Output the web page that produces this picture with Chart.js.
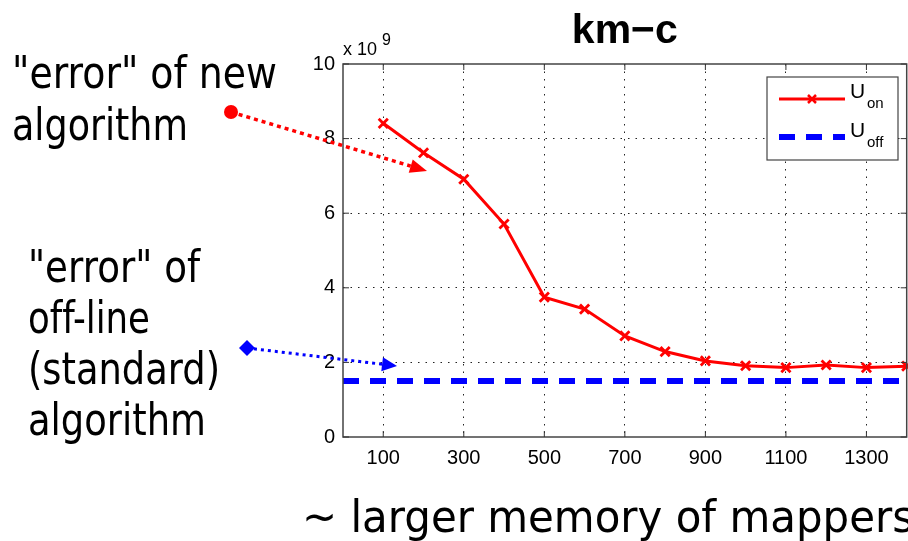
<!DOCTYPE html>
<html>
<head>
<meta charset="utf-8">
<script src="https://cdn.jsdelivr.net/npm/chart.js@4/dist/chart.umd.min.js"></script>
<style>
  html, body { margin: 0; padding: 0; background: #fff; overflow: hidden; }
  #wrap { width: 908px; height: 541px; overflow: hidden; }
</style>
</head>
<body>
<div id="wrap"><canvas id="c" width="916" height="541"></canvas></div>
<script>
// memory of mappers (x) and error values (in units of 1e9)
const memSizes = [100, 200, 300, 400, 500, 600, 700, 800, 900, 1000, 1100, 1200, 1300, 1400];
const uOn = [8.41, 7.62, 6.91, 5.71, 3.75, 3.43, 2.71, 2.29, 2.04, 1.91, 1.86, 1.93, 1.86, 1.90];
const uOffX = [0, 1400];
const uOff = [1.5, 1.5];
const xTicks = [100, 300, 500, 700, 900, 1100, 1300];
const yTicks = [0, 2, 4, 6, 8, 10];

const titleText = "km\u2212c";
const xLabel = "~ larger memory of mappers";
const noteNew = ['"error" of new', 'algorithm'];
// zero-width non-joiner keeps the two f's apart (no ligature), as on the slide
const noteOff = ['"error" of', 'of\u200Cf-line', '(standard)', 'algorithm'];

const SANS = '"Liberation Sans", Arial, sans-serif';
const NOTE = '45px "DejaVu Sans", Verdana, sans-serif';

function arrow(ctx, x0, y0, x1, y1, color, width, dash, head, half) {
  const a = Math.atan2(y1 - y0, x1 - x0);
  const bx = x1 - head * Math.cos(a), by = y1 - head * Math.sin(a);
  ctx.save();
  ctx.strokeStyle = color;
  ctx.fillStyle = color;
  ctx.lineWidth = width;
  ctx.setLineDash(dash);
  ctx.beginPath();
  ctx.moveTo(x0, y0);
  ctx.lineTo(bx, by);
  ctx.stroke();
  ctx.setLineDash([]);
  ctx.beginPath();
  ctx.moveTo(x1, y1);
  ctx.lineTo(bx + half * Math.sin(a), by - half * Math.cos(a));
  ctx.lineTo(bx - half * Math.sin(a), by + half * Math.cos(a));
  ctx.closePath();
  ctx.fill();
  ctx.restore();
}

// draw text squeezed horizontally to a given width (the slide font is a narrow one)
function fitText(ctx, text, x, y, font, width) {
  ctx.font = font;
  const w = ctx.measureText(text).width;
  ctx.save();
  ctx.translate(x, y);
  ctx.scale(width / w, 1);
  ctx.fillText(text, 0, 0);
  ctx.restore();
}

const decor = {
  id: 'decor',
  afterDraw(chart) {
    const ctx = chart.ctx;
    const a = chart.chartArea;
    const xs = chart.scales.x, ys = chart.scales.y;
    ctx.save();

    // axis box
    ctx.strokeStyle = '#444';
    ctx.lineWidth = 1.5;
    ctx.strokeRect(a.left, a.top, a.right - a.left, a.bottom - a.top);

    // inward tick marks
    ctx.lineWidth = 1;
    ctx.strokeStyle = '#333';
    ctx.beginPath();
    xTicks.forEach(v => {
      const px = xs.getPixelForValue(v);
      ctx.moveTo(px, a.bottom); ctx.lineTo(px, a.bottom - 6);
      ctx.moveTo(px, a.top); ctx.lineTo(px, a.top + 6);
    });
    yTicks.forEach(v => {
      const py = ys.getPixelForValue(v);
      ctx.moveTo(a.left, py); ctx.lineTo(a.left + 6, py);
      ctx.moveTo(a.right, py); ctx.lineTo(a.right - 6, py);
    });
    ctx.stroke();

    // title
    ctx.fillStyle = '#000';
    ctx.textAlign = 'center';
    ctx.textBaseline = 'alphabetic';
    ctx.font = 'bold 41px ' + SANS;
    ctx.fillText(titleText, (a.left + a.right) / 2, 43);

    // exponent
    ctx.textAlign = 'left';
    ctx.font = '18px ' + SANS;
    ctx.fillText('x 10', a.left, 55);
    ctx.font = '16px ' + SANS;
    ctx.fillText('9', a.left + 39, 45);

    // legend
    ctx.fillStyle = '#fff';
    ctx.fillRect(767, 77, 131, 83);
    ctx.strokeStyle = '#444';
    ctx.lineWidth = 1.2;
    ctx.strokeRect(767, 77, 131, 83);
    ctx.strokeStyle = '#ff0000';
    ctx.lineWidth = 3;
    ctx.beginPath(); ctx.moveTo(779, 99); ctx.lineTo(845, 99); ctx.stroke();
    ctx.lineWidth = 2.5;
    ctx.beginPath();
    ctx.moveTo(808, 95); ctx.lineTo(816, 103);
    ctx.moveTo(816, 95); ctx.lineTo(808, 103);
    ctx.stroke();
    ctx.strokeStyle = '#0000ff';
    ctx.lineWidth = 6;
    ctx.setLineDash([16, 11]);
    ctx.beginPath(); ctx.moveTo(779, 137); ctx.lineTo(845, 137); ctx.stroke();
    ctx.setLineDash([]);
    ctx.fillStyle = '#000';
    ctx.font = '21px ' + SANS;
    ctx.fillText('U', 850, 98);
    ctx.fillText('U', 850, 137);
    ctx.font = '15px ' + SANS;
    ctx.fillText('on', 867, 108);
    ctx.fillText('off', 867, 147);

    // x label
    fitText(ctx, xLabel, 302, 532, NOTE, 612);

    // notes on the left
    fitText(ctx, noteNew[0], 12, 88, NOTE, 265);
    fitText(ctx, noteNew[1], 12, 140, NOTE, 176);
    fitText(ctx, noteOff[0], 28, 282, NOTE, 172);
    fitText(ctx, noteOff[1], 28, 333, NOTE, 122);
    fitText(ctx, noteOff[2], 28, 384, NOTE, 192);
    fitText(ctx, noteOff[3], 28, 435, NOTE, 178);

    // arrows
    arrow(ctx, 231, 112, 427, 171, '#ff0000', 3.5, [4, 4], 17, 7);
    ctx.fillStyle = '#ff0000';
    ctx.beginPath(); ctx.arc(231, 112, 7, 0, Math.PI * 2); ctx.fill();
    arrow(ctx, 247, 348, 397, 366, '#0000ff', 3, [3, 4], 15, 7);
    ctx.fillStyle = '#0000ff';
    ctx.beginPath();
    ctx.moveTo(247, 340); ctx.lineTo(255, 348); ctx.lineTo(247, 356); ctx.lineTo(239, 348);
    ctx.closePath(); ctx.fill();

    ctx.restore();
  }
};

new Chart(document.getElementById('c'), {
  type: 'line',
  data: {
    datasets: [
      {
        label: 'U_on',
        data: memSizes.map((x, i) => ({ x, y: uOn[i] })),
        borderColor: '#ff0000',
        backgroundColor: '#ff0000',
        borderWidth: 3,
        pointStyle: 'crossRot',
        pointRadius: 6.5,
        pointBorderWidth: 2.8,
        pointBorderColor: '#ff0000',
        tension: 0,
        fill: false,
        clip: false
      },
      {
        label: 'U_off',
        data: uOffX.map((x, i) => ({ x, y: uOff[i] })),
        borderColor: '#0000ff',
        borderWidth: 6,
        borderDash: [16, 11],
        borderCapStyle: 'butt',
        pointRadius: 0,
        fill: false
      }
    ]
  },
  options: {
    responsive: false,
    animation: false,
    layout: { padding: { left: 0, top: 64, right: 4, bottom: 0 } },
    plugins: { legend: { display: false }, tooltip: { enabled: false } },
    scales: {
      x: {
        type: 'linear',
        min: 0,
        max: 1400,
        afterBuildTicks: s => { s.ticks = xTicks.map(v => ({ value: v })); },
        afterFit: s => { s.height = 104; },
        grid: { color: '#222', lineWidth: 1, drawTicks: false },
        border: { display: false, dash: [1.5, 6] },
        ticks: { color: '#000', padding: 9, font: { family: SANS, size: 20 }, callback: v => String(v) }
      },
      y: {
        min: 0,
        max: 10,
        afterBuildTicks: s => { s.ticks = yTicks.map(v => ({ value: v })); },
        afterFit: s => { s.width = 343; },
        grid: {
          color: c => (c.tick && (c.tick.value === 0 || c.tick.value === 10)) ? 'rgba(0,0,0,0)' : '#222',
          lineWidth: 1,
          drawTicks: false
        },
        border: { display: false, dash: [1.5, 6] },
        ticks: { color: '#000', padding: 8, font: { family: SANS, size: 20 }, callback: v => String(v) }
      }
    }
  },
  plugins: [decor]
});
</script>
</body>
</html>
